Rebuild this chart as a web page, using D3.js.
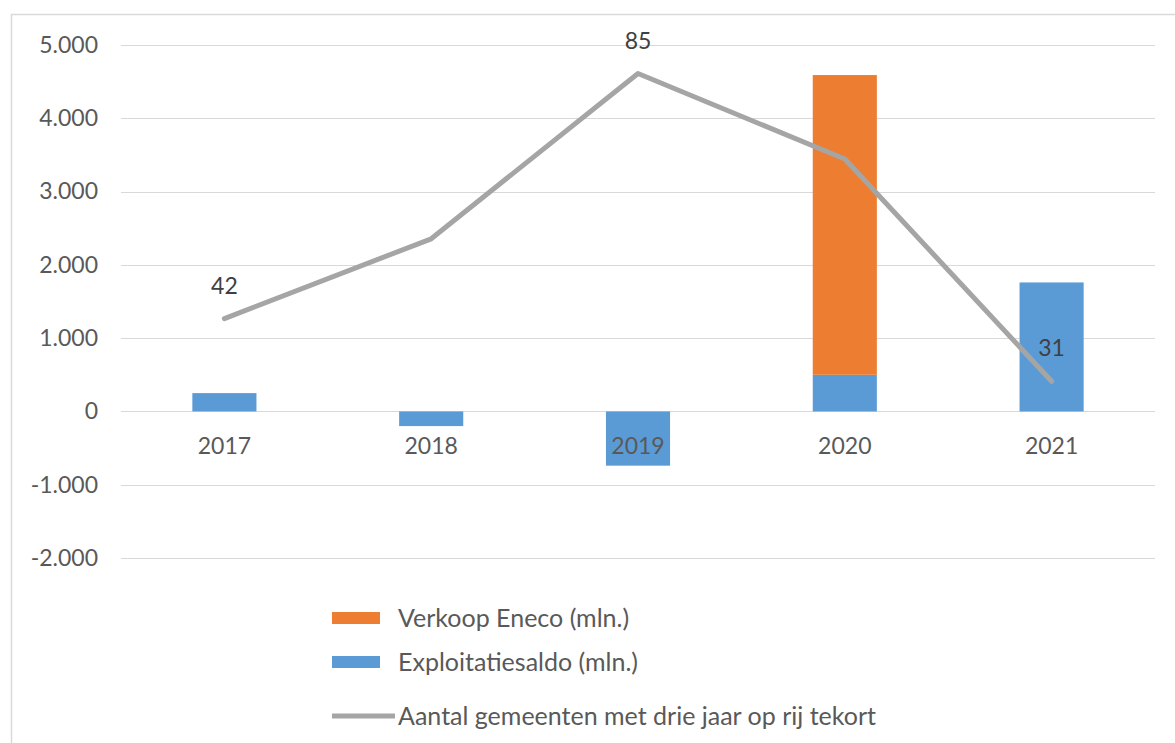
<!DOCTYPE html>
<html>
<head>
<meta charset="utf-8">
<script src="https://cdn.jsdelivr.net/npm/d3@7"></script>
<style>
  body { margin: 0; background: #fff; }
  text { font-family: Lato, "Open Sans", sans-serif; }
</style>
</head>
<body>
<div id="chart"></div>
<script>
// chart data
var years = ["2017", "2018", "2019", "2020", "2021"];
var exploitatie = [250, -200, -740, 500, 1760];   // Exploitatiesaldo (mln.)
var eneco = [0, 0, 0, 4090, 0];                    // Verkoop Eneco (mln.)
var gemeenten = [42, 56, 85, 70, 31];              // Aantal gemeenten
var lineLabels = ["42", "", "85", "", "31"];
var yTicks = [-2000, -1000, 0, 1000, 2000, 3000, 4000, 5000];
var legendNames = ["Verkoop Eneco (mln.)", "Exploitatiesaldo (mln.)", "Aantal gemeenten met drie jaar op rij tekort"];

const width = 1175, height = 743,
    plot = {left: 121, right: 1155, top: 45, bottom: 558};

const colBlue = "#5b9bd5", colOrange = "#ed7d31", colGray = "#a5a5a5";

const nl = d3.formatLocale({decimal: ",", thousands: ".", grouping: [3], currency: ["€", ""], minus: "-"});
const fmt = nl.format(",d");

const svg = d3.select("#chart")
    .append("svg")
        .attr("width", width)
        .attr("height", height);

// chart frame (runs off right/bottom)
svg.append("rect")
    .attr("x", 11.5).attr("y", 14.5)
    .attr("width", width + 20).attr("height", height + 20)
    .style("fill", "none")
    .style("stroke", "#d9d9d9")
    .style("stroke-width", 1.5);

const xScale = d3.scaleBand()
    .domain(years)
    .range([plot.left, plot.right])
    .paddingInner(0.69)
    .paddingOuter(0.345);

const yScale = d3.scaleLinear()
    .domain([-2000, 5000])
    .range([plot.bottom, plot.top]);

// secondary (hidden) axis for the line
const y2Scale = d3.scaleLinear()
    .domain([0, 90])
    .range([plot.bottom, plot.top]);

// gridlines
svg.append("g")
    .selectAll("line")
    .data(yTicks)
    .enter().append("line")
        .attr("x1", plot.left).attr("x2", plot.right)
        .attr("y1", d => Math.round(yScale(d)) + 0.5)
        .attr("y2", d => Math.round(yScale(d)) + 0.5)
        .style("stroke", "#d9d9d9")
        .style("stroke-width", 1.2);

// y axis labels
const yAxis = d3.axisLeft(yScale).tickValues(yTicks).tickFormat(fmt).tickSize(0).tickPadding(0);
svg.append("g")
    .attr("transform", `translate(${plot.left - 23},0)`)
    .call(yAxis)
    .call(g => g.select(".domain").remove())
    .call(g => g.selectAll("text")
        .style("font-family", "Lato, 'Open Sans', sans-serif")
        .style("font-size", "23px")
        .style("fill", "#595959"));

// bars
const bars = svg.append("g");
bars.selectAll(".blue")
    .data(exploitatie)
    .enter().append("rect")
        .attr("class", "blue")
        .attr("x", (d, i) => xScale(years[i]))
        .attr("width", xScale.bandwidth())
        .attr("y", d => yScale(Math.max(0, d)))
        .attr("height", d => Math.abs(yScale(d) - yScale(0)))
        .style("fill", colBlue);

bars.selectAll(".orange")
    .data(eneco)
    .enter().append("rect")
        .attr("class", "orange")
        .attr("x", (d, i) => xScale(years[i]))
        .attr("width", xScale.bandwidth())
        .attr("y", (d, i) => yScale(Math.max(0, exploitatie[i]) + d))
        .attr("height", (d, i) => yScale(Math.max(0, exploitatie[i])) - yScale(Math.max(0, exploitatie[i]) + d))
        .style("fill", colOrange);

// x axis labels (drawn over the bars)
const xAxis = d3.axisBottom(xScale).tickSize(0).tickPadding(0);
svg.append("g")
    .attr("transform", `translate(0,${yScale(0) + 26})`)
    .call(xAxis)
    .call(g => g.select(".domain").remove())
    .call(g => g.selectAll("text")
        .style("font-family", "Lato, 'Open Sans', sans-serif")
        .style("font-size", "23px")
        .style("fill", "#595959"));

// line
const line = d3.line()
    .x((d, i) => xScale(years[i]) + xScale.bandwidth() / 2)
    .y(d => y2Scale(d));

svg.append("path")
    .datum(gemeenten)
    .attr("d", line)
    .style("fill", "none")
    .style("stroke", colGray)
    .style("stroke-width", 5)
    .style("stroke-linejoin", "round")
    .style("stroke-linecap", "round");

// line labels
svg.append("g")
    .selectAll("text")
    .data(gemeenten)
    .enter().append("text")
        .attr("x", (d, i) => xScale(years[i]) + xScale.bandwidth() / 2)
        .attr("y", d => y2Scale(d) - 33)
        .attr("dy", "0.35em")
        .attr("text-anchor", "middle")
        .style("font-size", "23px")
        .style("fill", "#404040")
        .text((d, i) => lineLabels[i]);

// legend
const legend = svg.append("g").attr("transform", "translate(332,0)");
const legendY = [618, 662, 716];

legend.append("rect")
    .attr("x", 0).attr("y", legendY[0] - 6)
    .attr("width", 48).attr("height", 12)
    .style("fill", colOrange);
legend.append("rect")
    .attr("x", 0).attr("y", legendY[1] - 6)
    .attr("width", 48).attr("height", 12)
    .style("fill", colBlue);
legend.append("line")
    .attr("x1", 0).attr("x2", 63)
    .attr("y1", legendY[2]).attr("y2", legendY[2])
    .style("stroke", colGray)
    .style("stroke-width", 5);

legend.selectAll(".ltext")
    .data(legendNames)
    .enter().append("text")
        .attr("class", "ltext")
        .attr("x", 66)
        .attr("y", (d, i) => legendY[i])
        .attr("dy", "0.35em")
        .style("font-size", "25px")
        .style("fill", "#595959")
        .text(d => d);
</script>
</body>
</html>
